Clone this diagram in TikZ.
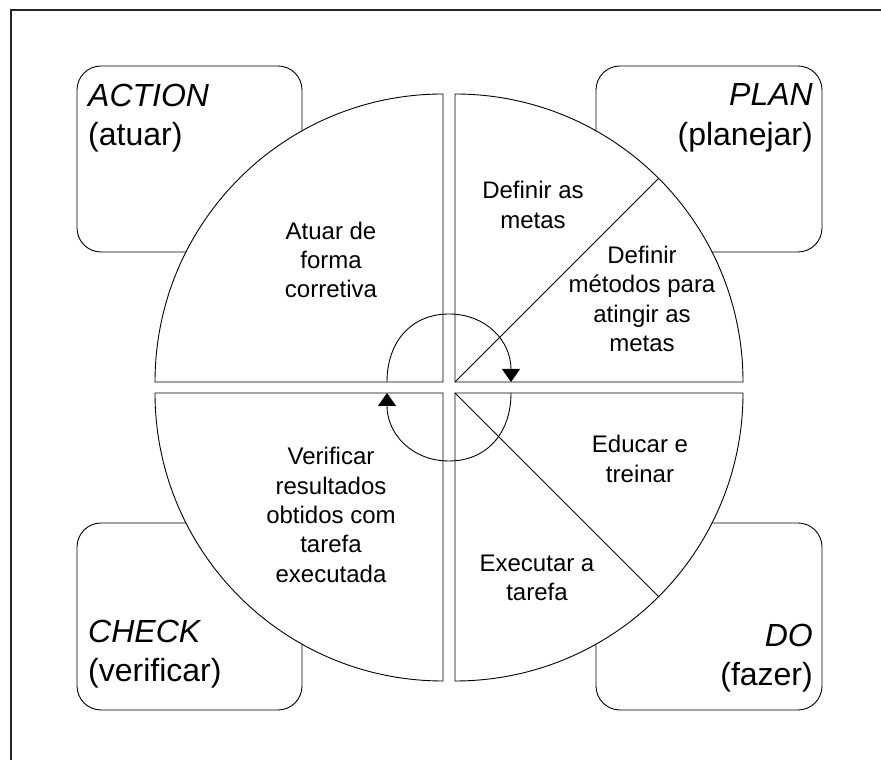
\documentclass[tikz,border=0pt]{standalone}
\usepackage{fontspec}
\setmainfont{Liberation Sans}
\usetikzlibrary{arrows.meta,calc}

\tikzset{
  frame/.style={line width=1.3pt, black!85},
  phasebox/.style={draw, line width=0.9pt, rounded corners=24pt},
  quarter/.style={draw, fill=white, line width=0.9pt},
  divider/.style={line width=0.8pt},
  steptext/.style={inner sep=0pt, align=center,
    font=\fontsize{24}{29.3}\selectfont},
  phaselabel/.style={inner sep=0pt, font=\fontsize{32}{39.5}\selectfont},
  loop/.style={line width=0.9pt, -{Triangle[width=18pt,length=13pt]}}
}

\begin{document}
\begin{tikzpicture}[x=1pt, y=1pt]
  \useasboundingbox (0,0) rectangle (881,760);

  % outer frame (only the top and left edges fall inside the page)
  \draw[frame] (11,0) -- (11,750) -- (881,750);

  % the four phase boxes behind the wheel
  \draw[phasebox] (77,508) rectangle (302,694);
  \draw[phasebox] (596,508) rectangle (822,694);
  \draw[phasebox] (77,50) rectangle (302,237);
  \draw[phasebox] (596,50) rectangle (822,237);

  % the wheel: four quarter discs separated by a narrow gap
  \coordinate (cUR) at (455,378);
  \coordinate (cUL) at (443,378);
  \coordinate (cLL) at (443,367);
  \coordinate (cLR) at (455,367);
  \draw[quarter] (cUR) -- ++(288,0) arc[start angle=0, end angle=90, radius=288] -- cycle;
  \draw[quarter] (cUL) -- ++(0,288) arc[start angle=90, end angle=180, radius=288] -- cycle;
  \draw[quarter] (cLL) -- ++(-288,0) arc[start angle=180, end angle=270, radius=288] -- cycle;
  \draw[quarter] (cLR) -- ++(0,-288) arc[start angle=270, end angle=360, radius=288] -- cycle;

  % diagonals splitting PLAN and DO
  \coordinate (dUR) at ($(cUR)+(45:288)$);
  \coordinate (dLR) at ($(cLR)+(-45:288)$);
  \draw[divider] (cUR) -- (dUR);
  \draw[divider] (cLR) -- (dLR);

  % phase labels
  \node[phaselabel, anchor=west, align=left] (act) at (88,642) {\textit{ACTION}\\(atuar)};
  \node[phaselabel, anchor=east, align=right] (pln) at (813,642) {\textit{PLAN}\\(planejar)};
  \node[phaselabel, anchor=west, align=left] (chk) at (88,106) {\textit{CHECK}\\(verificar)};
  \node[phaselabel, anchor=east, align=right] (dox) at (813,102) {\textit{DO}\\(fazer)};

  % step texts
  \node[steptext] (t1) at (331,500) {Atuar de\\forma\\corretiva};
  \node[steptext] (t2) at (533,555) {Definir as\\metas};
  \node[steptext] (t3) at (642,461) {Definir\\métodos para\\atingir as\\metas};
  \node[steptext] (t4) at (331,245) {Verificar\\resultados\\obtidos com\\tarefa\\executada};
  \node[steptext] (t5) at (640,301) {Educar e\\treinar};
  \node[steptext] (t6) at (537,182) {Executar a\\tarefa};

  % cycle arrows around the hub
  \coordinate (hubL1) at (387,378);
  \coordinate (hubT)  at (449,446);
  \coordinate (hubR1) at (511,378);
  \coordinate (hubR2) at (511,367);
  \coordinate (hubB)  at (449,299);
  \coordinate (hubL2) at (387,367);
  \draw[loop] (hubL1) .. controls (387,419) and (412,446) .. (hubT)
                      .. controls (486,446) and (511,419) .. (hubR1);
  \draw[loop] (hubR2) .. controls (511,326) and (486,299) .. (hubB)
                      .. controls (412,299) and (387,326) .. (hubL2);
\end{tikzpicture}
\end{document}
